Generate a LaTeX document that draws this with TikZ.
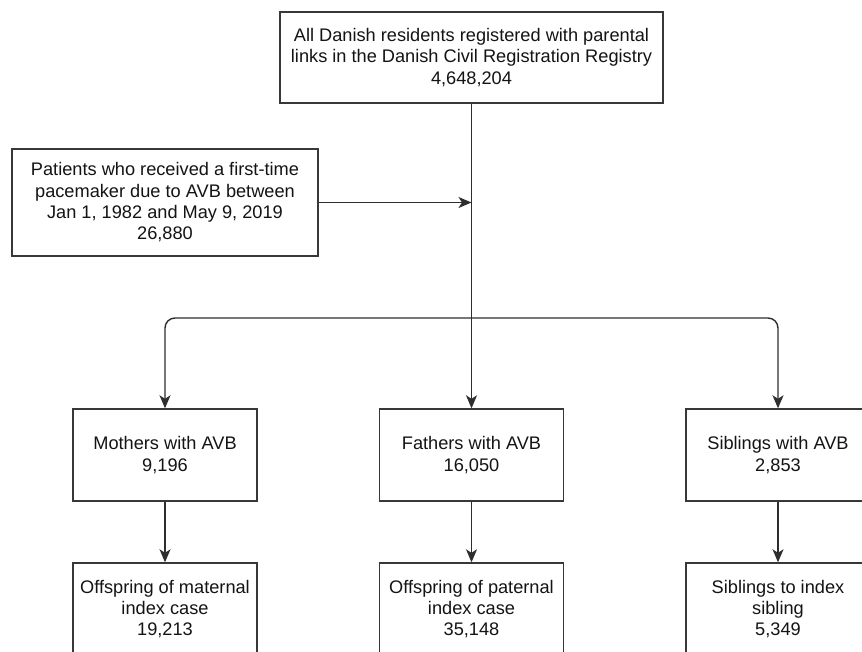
\documentclass[tikz,border=0pt]{standalone}
\usepackage{fontspec}
\setmainfont{Liberation Sans}
\usetikzlibrary{arrows.meta}
\begin{document}
\begin{tikzpicture}[x=1pt,y=-1pt,
  box/.style={draw=black!78, line width=1.4pt, fill=white, align=center, inner sep=0pt,
    font=\fontsize{18.2}{21.3}\selectfont, text=black!92},
  conn/.style={draw=black!82, line width=1.4pt, -{Stealth[length=13pt,width=11pt,inset=3.5pt]}}
]
\useasboundingbox (0,0) rectangle (862,652);
\node[box, minimum width=383pt, minimum height=91pt] (top) at (471.5,57.5)
  {All Danish residents registered with parental\\links in the Danish Civil Registration Registry\\4,648,204};
\node[box, minimum width=306pt, minimum height=107pt] (pat) at (165,202.5)
  {Patients who received a first-time\\pacemaker due to AVB between\\Jan 1, 1982 and May 9, 2019\\26,880};
\node[box, minimum width=184pt, minimum height=92pt] (mot) at (165,455) {Mothers with AVB\\9,196};
\node[box, minimum width=184pt, minimum height=92pt] (fat) at (471.5,455) {Fathers with AVB\\16,050};
\node[box, minimum width=184pt, minimum height=92pt] (sib) at (778,455) {Siblings with AVB\\2,853};
\node[box, minimum width=184pt, minimum height=92pt] (offm) at (165,609) {Offspring of maternal\\index case\\19,213};
\node[box, minimum width=184pt, minimum height=92pt] (offp) at (471.5,609) {Offspring of paternal\\index case\\35,148};
\node[box, minimum width=184pt, minimum height=92pt] (sibi) at (778,609) {Siblings to index\\sibling\\5,349};
\coordinate (j) at (471.5,318);
\draw[conn] (top.south) -- (fat.north);
\draw[conn] (pat.east) -- (pat.east -| top.south);
\draw[conn, rounded corners=10pt] (j) -| (mot.north);
\draw[conn, rounded corners=10pt] (j) -| (sib.north);
\draw[conn] (mot.south) -- (offm.north);
\draw[conn] (fat.south) -- (offp.north);
\draw[conn] (sib.south) -- (sibi.north);
\end{tikzpicture}
\end{document}
